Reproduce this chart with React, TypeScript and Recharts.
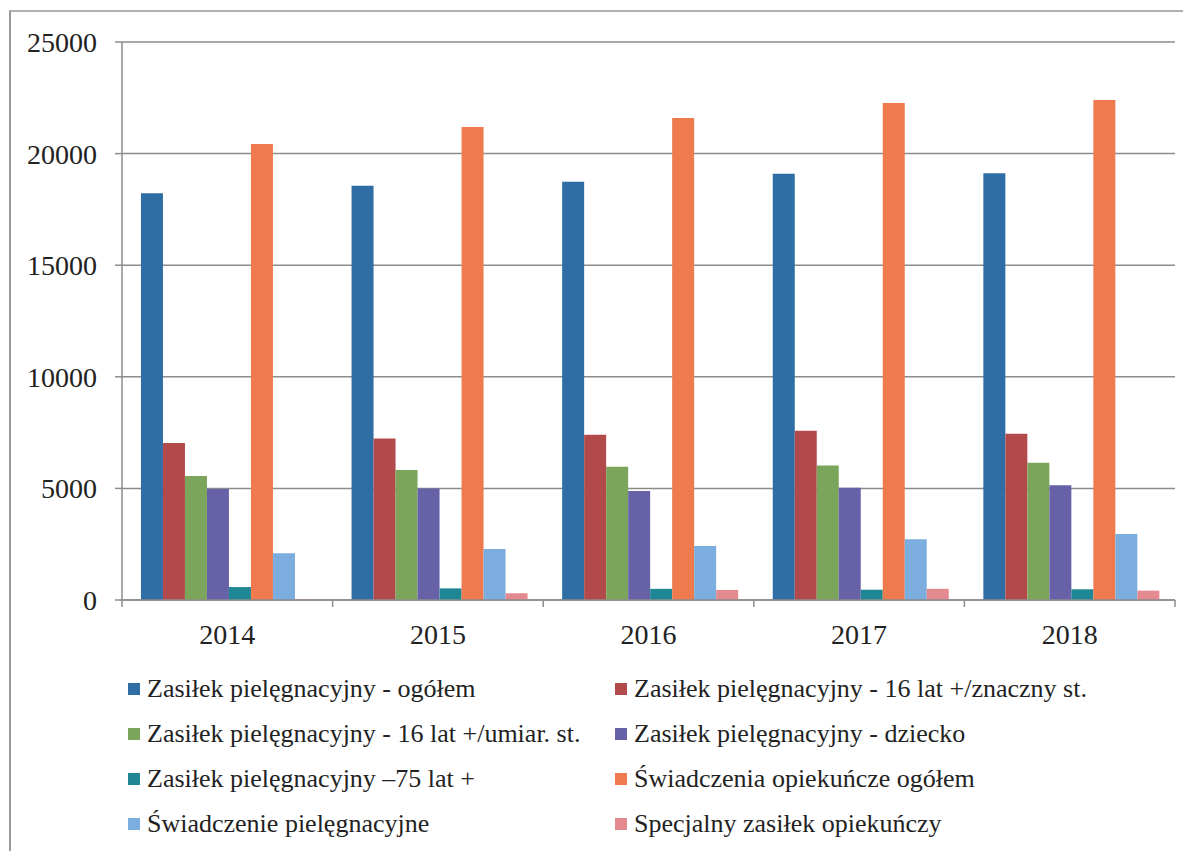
import React from 'react';
import { BarChart, Bar, XAxis, YAxis, CartesianGrid, Legend } from 'recharts';

const years = ['2014', '2015', '2016', '2017', '2018'];

const zpOgolem = [18220, 18560, 18740, 19100, 19120];
const zp16Znaczny = [7030, 7240, 7400, 7580, 7450];
const zp16Umiar = [5560, 5820, 5970, 6030, 6150];
const zpDziecko = [4970, 4990, 4880, 5030, 5140];
const zp75 = [580, 520, 500, 460, 480];
const swOpiekuncze = [20430, 21190, 21600, 22270, 22400];
const swPielegnacyjne = [2100, 2280, 2420, 2720, 2960];
const specjalny = [30, 300, 450, 500, 420];

const yTicks = [0, 5000, 10000, 15000, 20000, 25000];

const series = [
  { key: 'zpOgolem', name: 'Zasiłek pielęgnacyjny - ogółem', color: '#2f6da5', values: zpOgolem },
  { key: 'zp16Znaczny', name: 'Zasiłek pielęgnacyjny - 16 lat +/znaczny st.', color: '#b24a4b', values: zp16Znaczny },
  { key: 'zp16Umiar', name: 'Zasiłek pielęgnacyjny - 16 lat +/umiar. st.', color: '#7ba55a', values: zp16Umiar },
  { key: 'zpDziecko', name: 'Zasiłek pielęgnacyjny - dziecko', color: '#6762a8', values: zpDziecko },
  { key: 'zp75', name: 'Zasiłek pielęgnacyjny –75 lat +', color: '#1f8793', values: zp75 },
  { key: 'swOpiekuncze', name: 'Świadczenia opiekuńcze ogółem', color: '#ee7a4d', values: swOpiekuncze },
  { key: 'swPielegnacyjne', name: 'Świadczenie pielęgnacyjne', color: '#7badde', values: swPielegnacyjne },
  { key: 'specjalny', name: 'Specjalny zasiłek opiekuńczy', color: '#e28a90', values: specjalny },
];

const data = years.map((year, i) => {
  const row: Record<string, string | number> = { year };
  series.forEach(s => { row[s.key] = s.values[i]; });
  return row;
});

const FONT = 'Liberation Serif, Tinos, Times New Roman, DejaVu Serif, serif';
const GRID = '#8c8c8c';
const CHART_W = 1183;
const CHART_H = 843;
const MARGIN = { top: 34, right: 16, left: 0, bottom: 0 };
const Y_W = 114;
const BAND = (CHART_W - MARGIN.left - MARGIN.right - Y_W) / years.length;

function YearTick(props: any) {
  const { x, y, payload, index } = props;
  const axisY = y - 24;
  const left = x - BAND / 2;
  return (
    <g>
      <line x1={left} x2={left} y1={axisY} y2={axisY + 7} stroke={GRID} strokeWidth={1.5} />
      {index === years.length - 1 && (
        <line x1={x + BAND / 2} x2={x + BAND / 2} y1={axisY} y2={axisY + 7} stroke={GRID} strokeWidth={1.5} />
      )}
      <text x={x} y={y} dy="0.71em" textAnchor="middle" style={{ fontFamily: FONT }} fontSize={28} fill="#222">
        {payload.value}
      </text>
    </g>
  );
}

function LegendBox() {
  return (
    <div style={{
      height: 191, boxSizing: 'border-box', paddingTop: 6, paddingLeft: 120,
      display: 'grid', gridTemplateColumns: '487px 500px', gridAutoRows: '45px',
      fontFamily: FONT, fontSize: 26, color: '#222', textAlign: 'left',
    }}>
      {series.map(s => (
        <div key={s.key} style={{ display: 'flex', alignItems: 'center', whiteSpace: 'nowrap' }}>
          <span style={{ width: 12, height: 12, background: s.color, marginRight: 7, flex: 'none' }} />
          <span>{s.name}</span>
        </div>
      ))}
    </div>
  );
}

export default function App() {
  return (
    <div style={{ position: 'relative', width: CHART_W, height: CHART_H, background: '#fff', overflow: 'hidden', fontFamily: FONT }}>
      <div style={{
        position: 'absolute', left: 1, top: 2, right: -10, bottom: -10,
        borderLeft: '2px solid #9a9a9a', borderTop: '2px solid #b0b0b0', pointerEvents: 'none',
      }} />
      <BarChart width={CHART_W} height={CHART_H} data={data} margin={MARGIN} barCategoryGap="9%" barGap={0}>
        <CartesianGrid horizontal vertical={false} stroke={GRID} strokeWidth={1.5} />
        <XAxis
          dataKey="year"
          tick={<YearTick />}
          tickLine={false}
          tickSize={0}
          tickMargin={24}
          height={60}
          stroke={GRID}
          strokeWidth={1.5}
          interval={0}
        />
        <YAxis
          domain={[0, 25000]}
          ticks={yTicks}
          width={Y_W}
          tickSize={7}
          tickMargin={18}
          stroke={GRID}
          strokeWidth={1.5}
          tick={{ style: { fontFamily: FONT }, fontSize: 28, fill: '#222' }}
        />
        <Legend verticalAlign="bottom" content={<LegendBox />} wrapperStyle={{ height: 191 }} />
        {series.map(s => (
          <Bar key={s.key} dataKey={s.key} name={s.name} fill={s.color} isAnimationActive={false} />
        ))}
      </BarChart>
    </div>
  );
}
